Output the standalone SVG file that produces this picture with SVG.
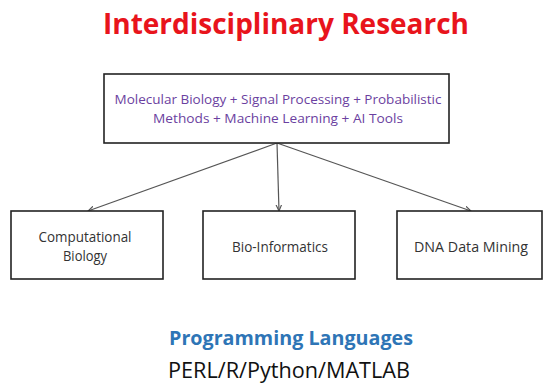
<svg xmlns="http://www.w3.org/2000/svg" width="543" height="387" viewBox="0 0 543 387">
  <style>
    .box { fill: #ffffff; stroke: #222222; stroke-width: 1.6; }
    .lbl { font-family: "Open Sans", "Liberation Sans", sans-serif; font-size: 14px; fill: #333333; text-anchor: middle; }
    .top { font-family: "Open Sans", "Liberation Sans", sans-serif; font-size: 13.5px; fill: #6b3fa0; text-anchor: middle; }
    .conn { stroke: #555555; stroke-width: 1.2; fill: none; marker-end: url(#arr); }
  </style>
  <defs>
    <marker id="arr" viewBox="0 0 10 10" refX="9" refY="5" markerWidth="7" markerHeight="7" orient="auto" markerUnits="userSpaceOnUse">
      <path d="M0,1 L9,5 L0,9" fill="none" stroke="#555555" stroke-width="1.6"/>
    </marker>
  </defs>
  <rect width="543" height="387" fill="#ffffff"/>

  <text id="title" x="286" y="34" font-family="Open Sans, Liberation Sans, sans-serif" font-size="29" font-weight="bold" fill="#e8141c" text-anchor="middle" textLength="366" lengthAdjust="spacingAndGlyphs">Interdisciplinary Research</text>

  <g id="connectors">
    <line class="conn" x1="277" y1="143" x2="88" y2="211"/>
    <line class="conn" x1="277" y1="143" x2="279" y2="211"/>
    <line class="conn" x1="277" y1="143" x2="471" y2="211"/>
  </g>

  <g id="fields">
    <rect class="box" x="104" y="74" width="345" height="69"/>
    <text class="top" x="278" y="104" textLength="327" lengthAdjust="spacingAndGlyphs">Molecular Biology + Signal Processing + Probabilistic</text>
    <text class="top" x="278" y="123" textLength="250" lengthAdjust="spacingAndGlyphs">Methods + Machine Learning + AI Tools</text>
  </g>

  <g id="computational-biology">
    <rect class="box" x="11" y="211" width="152" height="68"/>
    <text class="lbl" x="85" y="242" textLength="93" lengthAdjust="spacingAndGlyphs">Computational</text>
    <text class="lbl" x="85" y="261" textLength="44" lengthAdjust="spacingAndGlyphs">Biology</text>
  </g>

  <g id="bio-informatics">
    <rect class="box" x="203" y="211" width="152" height="68"/>
    <text class="lbl" x="280" y="252" textLength="96" lengthAdjust="spacingAndGlyphs">Bio-Informatics</text>
  </g>

  <g id="dna-data-mining">
    <rect class="box" x="397" y="211" width="145" height="68"/>
    <text class="lbl" x="471" y="252" textLength="114" lengthAdjust="spacingAndGlyphs">DNA Data Mining</text>
  </g>

  <text id="lang-heading" x="291" y="345" font-family="Open Sans, Liberation Sans, sans-serif" font-size="19" font-weight="bold" fill="#2e75b6" text-anchor="middle" textLength="244" lengthAdjust="spacingAndGlyphs">Programming Languages</text>
  <text id="lang-list" x="289" y="378" font-family="Open Sans, Liberation Sans, sans-serif" font-size="21" fill="#111111" text-anchor="middle" textLength="242" lengthAdjust="spacingAndGlyphs">PERL/R/Python/MATLAB</text>
</svg>
